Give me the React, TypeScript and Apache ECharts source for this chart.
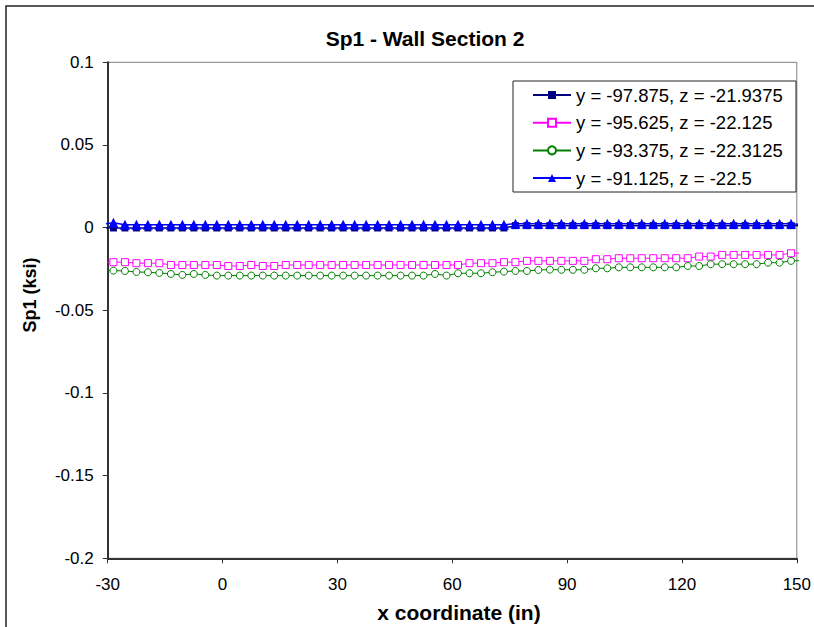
import React, { useEffect, useRef } from "react";
import * as echarts from "echarts";

// x coordinate (in) of every sample (the first and last lie just outside the axis range)
const xCoords = [
  -31.5, -28.5, -25.5, -22.5, -19.5, -16.5, -13.5, -10.5, -7.5, -4.5, -1.5, 1.5, 4.5, 7.5, 10.5,
  13.5, 16.5, 19.5, 22.5, 25.5, 28.5, 31.5, 34.5, 37.5, 40.5, 43.5, 46.5, 49.5, 52.5, 55.5, 58.5,
  61.5, 64.5, 67.5, 70.5, 73.5, 76.5, 79.5, 82.5, 85.5, 88.5, 91.5, 94.5, 97.5, 100.5, 103.5,
  106.5, 109.5, 112.5, 115.5, 118.5, 121.5, 124.5, 127.5, 130.5, 133.5, 136.5, 139.5, 142.5,
  145.5, 148.5, 151.5,
];

const seriesNames = [
  "y = -97.875, z = -21.9375",
  "y = -95.625, z = -22.125",
  "y = -93.375, z = -22.3125",
  "y = -91.125, z = -22.5",
];

const navyValues = [
  0.0,
  -0.0002, -0.0002, -0.0002, -0.0002, -0.0002, -0.0002, -0.0002, -0.0002, -0.0002, -0.0002,
  -0.0002, -0.0002, -0.0002, -0.0002, -0.0002, -0.0002, -0.0002, -0.0002, -0.0002, -0.0002,
  -0.0002, -0.0002, -0.0002, -0.0002, -0.0002, -0.0002, -0.0002, -0.0002, -0.0002, -0.0002,
  -0.0002, -0.0002, -0.0002, -0.0002, -0.0002,
  0.0012, 0.0012, 0.0012, 0.0012, 0.0012, 0.0012, 0.0012, 0.0012, 0.0012, 0.0012, 0.0012, 0.0012,
  0.0012, 0.0012, 0.0012, 0.0012, 0.0012, 0.0012, 0.0012, 0.0012, 0.0012, 0.0012, 0.0012, 0.0012,
  0.0012,
  0.0012,
];

const pinkValues = [
  -0.0209,
  -0.0209, -0.0209, -0.0215, -0.0215, -0.0215, -0.0226, -0.0226, -0.0226, -0.0226, -0.0226,
  -0.0232, -0.0232, -0.0226, -0.0232, -0.0232,
  -0.0226, -0.0226, -0.0226, -0.0226, -0.0226, -0.0226, -0.0226, -0.0226, -0.0226, -0.0226,
  -0.0226, -0.0226, -0.0226, -0.0226, -0.0226, -0.0226,
  -0.0215, -0.0215, -0.0215, -0.0209, -0.0209,
  -0.0201, -0.0201, -0.0201, -0.0201, -0.0201, -0.0201,
  -0.0191, -0.0191,
  -0.0185, -0.0185, -0.0185, -0.0185, -0.0185, -0.0185, -0.0185,
  -0.0175, -0.0175,
  -0.0165, -0.0165, -0.0165, -0.0165, -0.0165, -0.0165,
  -0.0155,
  -0.0153,
];

const greenValues = [
  -0.0258,
  -0.026, -0.0262, -0.0268, -0.027, -0.0274, -0.028, -0.0286, -0.028, -0.0286,
  -0.029, -0.029, -0.029, -0.029, -0.029, -0.029, -0.029, -0.029, -0.029, -0.029,
  -0.029, -0.029, -0.029, -0.029, -0.029, -0.029, -0.029, -0.029, -0.029,
  -0.028, -0.029,
  -0.0276, -0.0276, -0.0276,
  -0.027, -0.0266, -0.0262, -0.0262, -0.0256,
  -0.0254,
  -0.0255, -0.0255, -0.0255,
  -0.0246, -0.0246,
  -0.024, -0.024, -0.024, -0.024, -0.024, -0.024,
  -0.0232, -0.0232,
  -0.0221, -0.0221, -0.0221, -0.0221, -0.0221,
  -0.0212, -0.0212,
  -0.0201,
  -0.0199,
];

const blueValues = [
  0.002,
  0.003,
  0.0018, 0.0018, 0.0018, 0.0018, 0.0018, 0.0018, 0.0018, 0.0018, 0.0018, 0.0018, 0.0018,
  0.0018, 0.0018, 0.0018, 0.0018, 0.0018, 0.0018, 0.0018, 0.0018, 0.0018, 0.0018, 0.0018,
  0.0018, 0.0018, 0.0018, 0.0018, 0.0018, 0.0018, 0.0018, 0.0018, 0.0018, 0.0018, 0.0018,
  0.0018,
  0.0024, 0.0024, 0.0024, 0.0024, 0.0024, 0.0024, 0.0024, 0.0024, 0.0024, 0.0024, 0.0024, 0.0024,
  0.0024, 0.0024, 0.0024, 0.0024, 0.0024, 0.0024, 0.0024, 0.0024, 0.0024, 0.0024, 0.0024, 0.0024,
  0.0024,
  0.0018,
];

const xMin = -30;
const xMax = 150;
const xStep = 30;
const yMin = -0.2;
const yMax = 0.1;
const yStep = 0.05;

const FONT = 'Arial, "Liberation Sans", Helvetica, sans-serif';

function toData(values: number[]) {
  return xCoords.map((x, i) => {
    const item: any = { value: [x, values[i]] };
    if (x < xMin || x > xMax) item.symbol = "none";
    return item;
  });
}

export default function App() {
  const ref = useRef<HTMLDivElement>(null);

  useEffect(() => {
    document.body.style.margin = "0";
    const chart = echarts.init(ref.current!, null, { renderer: "svg" });

    const option: any = {
      animation: false,
      backgroundColor: "#ffffff",
      grid: {
        left: 107.7,
        right: 11,
        top: 62.3,
        bottom: 68.7,
        containLabel: false,
        show: true,
        borderColor: "#808080",
        borderWidth: 1,
        backgroundColor: "transparent",
      },
      xAxis: {
        type: "value",
        min: xMin,
        max: xMax,
        interval: xStep,
        axisLine: { show: true, onZero: false, lineStyle: { color: "#333", width: 2 } },
        axisTick: { show: true, length: 5, inside: false, lineStyle: { color: "#333", width: 1 } },
        axisLabel: { color: "#000", fontSize: 17, fontFamily: FONT, margin: 18 },
        splitLine: { show: false },
      },
      yAxis: {
        type: "value",
        min: yMin,
        max: yMax,
        interval: yStep,
        axisLine: { show: true, onZero: false, lineStyle: { color: "#333", width: 2 } },
        axisTick: { show: true, length: 5, inside: false, lineStyle: { color: "#333", width: 1 } },
        axisLabel: {
          color: "#000",
          fontSize: 17,
          fontFamily: FONT,
          margin: 14,
          formatter: (v: number) => String(Number(v.toFixed(3))),
        },
        splitLine: { show: false },
      },
      legend: {
        orient: "vertical",
        left: 532,
        top: 85,
        padding: 0,
        itemGap: 7.7,
        itemWidth: 38,
        itemHeight: 10,
        data: seriesNames,
        textStyle: { color: "#000", fontSize: 18.5, fontFamily: FONT, lineHeight: 20 },
        selectedMode: false,
      },
      graphic: [
        {
          type: "rect",
          z: 1,
          shape: { x: 6, y: 6, width: 1200, height: 1200 },
          style: { fill: "none", stroke: "#222", lineWidth: 1.5 },
          silent: true,
        },
        {
          type: "rect",
          z: 3,
          shape: { x: 513, y: 81, width: 283, height: 111 },
          style: { fill: "#fff", stroke: "#222", lineWidth: 1 },
          silent: true,
        },
        {
          type: "text",
          x: 425,
          y: 38,
          style: {
            text: "Sp1 - Wall Section 2",
            fontSize: 21,
            fontWeight: "bold",
            fontFamily: FONT,
            fill: "#000",
            textAlign: "center",
            textVerticalAlign: "middle",
          },
        },
        {
          type: "text",
          x: 459,
          y: 612,
          style: {
            text: "x coordinate (in)",
            fontSize: 21,
            fontWeight: "bold",
            fontFamily: FONT,
            fill: "#000",
            textAlign: "center",
            textVerticalAlign: "middle",
          },
        },
        {
          type: "text",
          x: 30,
          y: 295,
          rotation: Math.PI / 2,
          style: {
            text: "Sp1 (ksi)",
            fontSize: 18,
            fontWeight: "bold",
            fontFamily: FONT,
            fill: "#000",
            textAlign: "center",
            textVerticalAlign: "middle",
          },
        },
      ],
      series: [
        {
          name: seriesNames[0],
          type: "line",
          data: toData(navyValues),
          clip: false,
          symbol: "rect",
          symbolSize: 7,
          itemStyle: { color: "#000080" },
          lineStyle: { color: "#000080", width: 1.5 },
          emphasis: { disabled: true },
          z: 2,
        },
        {
          name: seriesNames[1],
          type: "line",
          data: toData(pinkValues),
          clip: false,
          symbol: "rect",
          symbolSize: 7,
          itemStyle: { color: "#ffffff", borderColor: "#FF00FF", borderWidth: 1 },
          lineStyle: { color: "#FF00FF", width: 1 },
          emphasis: { disabled: true },
          z: 2,
        },
        {
          name: seriesNames[2],
          type: "line",
          data: toData(greenValues),
          clip: false,
          symbol: "circle",
          symbolSize: 7,
          itemStyle: { color: "#ffffff", borderColor: "#008000", borderWidth: 1 },
          lineStyle: { color: "#008000", width: 1 },
          emphasis: { disabled: true },
          z: 2,
        },
        {
          name: seriesNames[3],
          type: "line",
          data: toData(blueValues),
          clip: false,
          symbol: "triangle",
          symbolSize: 10,
          itemStyle: { color: "#0000FF" },
          lineStyle: { color: "#0000FF", width: 1.5 },
          emphasis: { disabled: true },
          z: 2,
        },
      ],
    };

    chart.setOption(option);
    return () => chart.dispose();
  }, []);

  return <div ref={ref} style={{ width: 814, height: 627 }} />;
}
